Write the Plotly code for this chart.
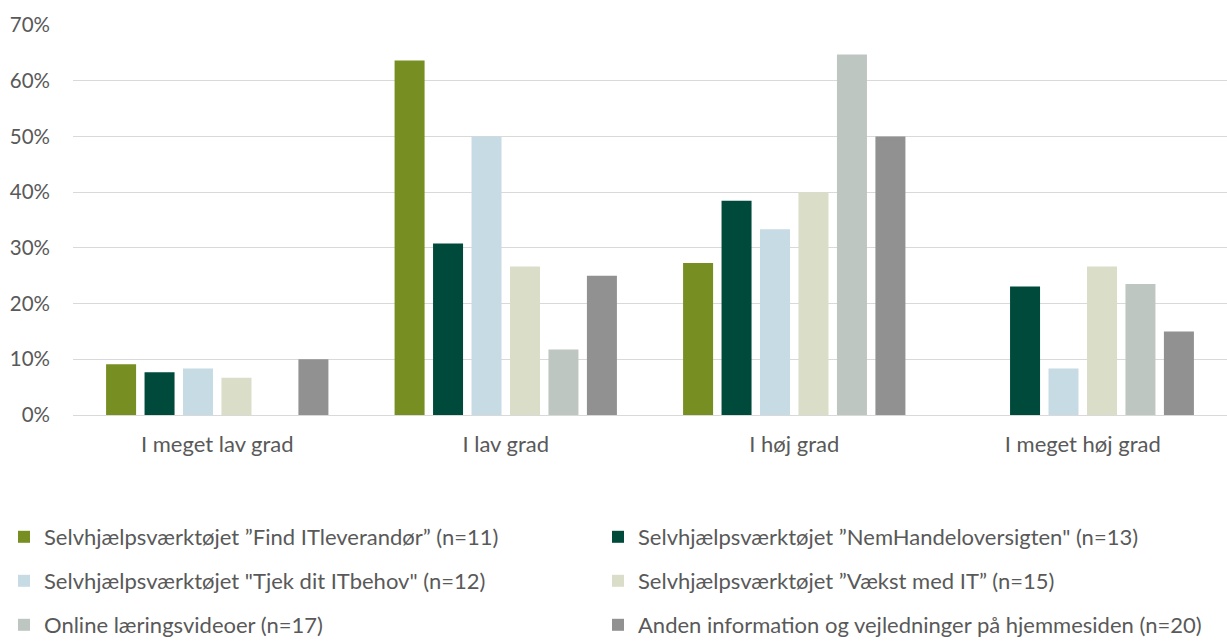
import plotly.graph_objects as go

categories = ["I meget lav grad", "I lav grad", "I høj grad", "I meget høj grad"]
series_names = [
    "Selvhjælpsværktøjet ”Find ITleverandør” (n=11)",
    "Selvhjælpsværktøjet ”NemHandeloversigten\" (n=13)",
    "Selvhjælpsværktøjet \"Tjek dit ITbehov\" (n=12)",
    "Selvhjælpsværktøjet ”Vækst med IT” (n=15)",
    "Online læringsvideoer (n=17)",
    "Anden information og vejledninger på hjemmesiden (n=20)",
]
find_it = [0.0909, 0.6364, 0.2727, 0.0]
nemhandel = [0.0769, 0.3077, 0.3846, 0.2308]
tjek_it = [0.0833, 0.50, 0.3333, 0.0833]
vaekst = [0.0667, 0.2667, 0.40, 0.2667]
videoer = [0.0, 0.1176, 0.6471, 0.2353]
anden = [0.10, 0.25, 0.50, 0.15]
values = [find_it, nemhandel, tjek_it, vaekst, videoer, anden]
colors = ["#778F22", "#004A3B", "#C7DBE4", "#DADDC8", "#BEC6C1", "#919191"]
legend_ids = ["legend", "legend2", "legend3", "legend4", "legend5", "legend6"]

FONT = "Lato"
TXT = "#595959"

fig = go.Figure()
for name, vals, col, lg in zip(series_names, values, colors, legend_ids):
    fig.add_trace(go.Bar(x=categories, y=vals, name=name, marker_color=col,
                         marker_line_width=0, legend=lg, showlegend=True))

def leg(xpx, ypx):
    return dict(orientation="h", xref="container", yref="container",
                xanchor="left", yanchor="middle",
                x=xpx / 1227, y=1 - ypx / 643,
                font=dict(family=FONT, size=22, color=TXT),
                bgcolor="rgba(0,0,0,0)", borderwidth=0)

fig.update_layout(
    width=1227, height=643,
    showlegend=True,
    margin=dict(l=73, r=0, t=25, b=228),
    paper_bgcolor="white", plot_bgcolor="white",
    barmode="group", bargap=0.2, bargroupgap=0.22,
    font=dict(family=FONT, size=20, color=TXT),
    yaxis=dict(range=[0, 0.70], dtick=0.10, tickformat=".0%",
               showgrid=True, gridcolor="#D9D9D9", gridwidth=1,
               zeroline=True, zerolinecolor="#D9D9D9", zerolinewidth=1,
               ticks="", ticklabelstandoff=22,
               tickfont=dict(family=FONT, size=20.5, color=TXT)),
    xaxis=dict(showline=False, ticks="", ticklabelstandoff=14,
               tickfont=dict(family=FONT, size=22, color=TXT)),
    legend=leg(4, 537),
    legend2=leg(598, 537),
    legend3=leg(4, 581),
    legend4=leg(598, 581),
    legend5=leg(4, 625),
    legend6=leg(598, 625),
)

fig.write_html("out.html")
